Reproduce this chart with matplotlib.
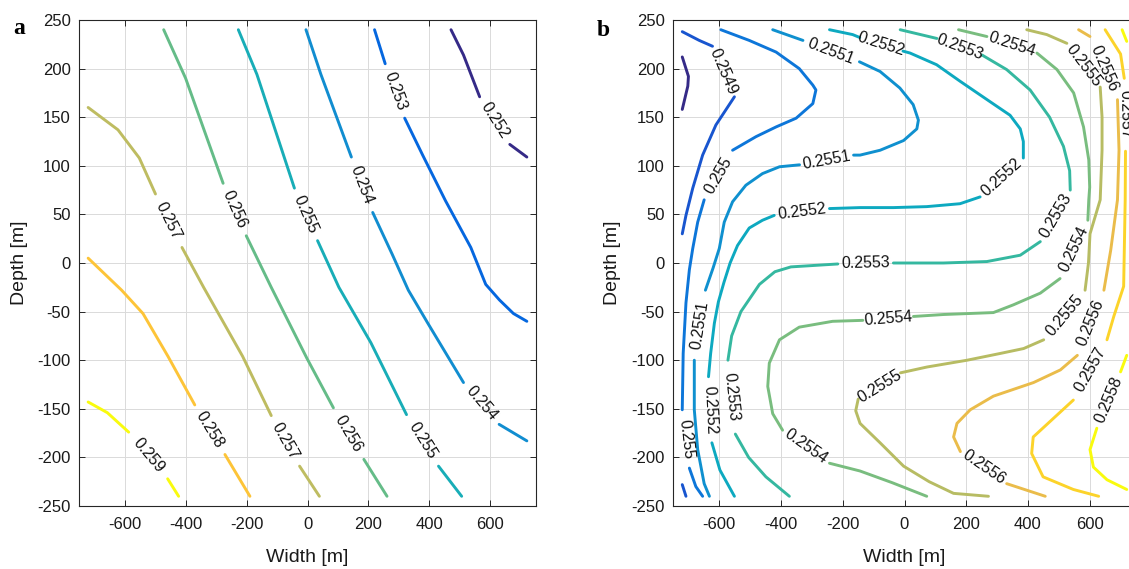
import math
import numpy as np
import matplotlib
import matplotlib.pyplot as plt
from matplotlib.colors import LinearSegmentedColormap, Normalize

matplotlib.use("Agg")

nan = np.nan

# panel a: contour lines (levels, traced x/y points, nan = gap where the label sits)
a_levels = [0.252, 0.253, 0.254, 0.255, 0.256, 0.257, 0.258, 0.259]
a_x = [
    [471, 512, 565, nan, 664, 720],
    [220, 255, nan, 319, 378, 453, 536, 585, 630, 676, 720],
    [-5, 44, 144, nan, 214, 278, 331, 395, 512, nan, 629, 720],
    [-227, -166, -43, nan, 33, 103, 208, 325, nan, 430, 506],
    [-472, -400, -277, nan, -201, -119, -2, 85, nan, 185, 261],
    [-720, -622, -552, -499, nan, -412, -341, -213, -119, nan, -26, 39],
    [-720, -610, -540, -458, -370, nan, -271, -189],
    [-720, -657, -587, nan, -459, -423],
]
a_y = [
    [240, 214, 171, nan, 122, 109],
    [240, 205, nan, 149, 111, 64, 16, -22, -38, -52, -60],
    [240, 194, 109, nan, 52, 9, -28, -62, -123, nan, -166, -183],
    [240, 194, 77, nan, 23, -25, -82, -156, nan, -209, -240],
    [240, 190, 82, nan, 28, -25, -98, -149, nan, -202, -240],
    [160, 137, 108, 71, nan, 16, -25, -96, -157, nan, -209, -240],
    [5, -28, -52, -96, -146, nan, -197, -240],
    [-143, -154, -174, nan, -222, -240],
]

# panel b: one entry per line piece, a level can have several pieces
b_levels = [0.2548, 0.2549, 0.2549, 0.255, 0.2551, 0.2552, 0.2553, 0.2554,
            0.2555, 0.2556, 0.2557, 0.2558, 0.2558]
b_x = [
    [-720, -700, -702, -720],
    [-720, -665, -622, nan, -551, -611, -654, -686, -708, -720],
    [-720, -708],
    [-595, -503, -416, -341, -297, -287, -297, -351, -416, -481, -557, nan,
     -649, -670, -686, -697, -708, -717, -720, nan, -697, -676, -654],
    [-427, -329, nan, -146, -79, -15, 28, 45, 40, -3, -79, -144, -165, nan,
     -340, -405, -460, -514, -557, -584, -600, -620, -645, nan,
     -681, -681, -670, -649, -632],
    [-243, -168, -145, nan, -5, 18, 104, 180, 277, 342, 375, 385, 385, nan,
     245, 180, 72, -36, -144, -243, nan, -422, -460, -503, -541, -565, -585,
     -603, -616, -628, -635, nan, -624, -598, -551],
    [-14, 105, nan, 251, 331, 407, 470, 515, 535, 537, nan, 440, 375, 267, 126,
     -36, nan, -216, -368, -420, -470, -530, -560, -572, nan, -548, -505, -449, -373],
    [175, 267, nan, 429, 494, 548, 580, 597, 600, 597, 594, nan, 504, 440, 353,
     288, 126, 29, nan, -135, -233, -341, -405, -438, -443, -427, -395, nan,
     -243, -144, -40, 72],
    [396, 461, 526, nan, 634, 640, 640, 634, 601, 596, 585, nan, 451, 386, 311,
     203, 73, -13, nan, -150, -158, -144, -79, -3, 80, 159, 272],
    [564, 601, nan, 690, 695, 690, 668, 646, nan, 560, 505, 418, 288, 213, 170,
     159, 181, nan, 331, 456],
    [650, 700, 712, nan, 716, 715, 710, 678, 656, nan, 547, 417, 412, 449, 547, 629],
    [705, 720],
    [720, 700, nan, 623, 601, 612, 656, 720],
]
b_y = [
    [212, 192, 182, 158],
    [238, 229, 223, nan, 171, 142, 111, 77, 49, 30],
    [-228, -240],
    [240, 229, 217, 200, 183, 178, 164, 149, 140, 130, 116, nan,
     65, 42, 15, -7, -41, -93, -151, nan, -211, -230, -240],
    [240, 229, nan, 207, 197, 180, 163, 147, 138, 126, 116, 111, 111, nan,
     101, 99, 92, 80, 63, 42, 15, -5, -28, nan,
     -100, -151, -192, -227, -240],
    [240, 235, 232, nan, 218, 216, 204, 187, 166, 152, 138, 125, 108, nan,
     68, 61, 58, 57, 57, 56, nan, 49, 44, 36, 18, 0, -20,
     -40, -62, -93, -117, nan, -185, -213, -240],
    [240, 231, nan, 214, 199, 178, 150, 120, 95, 75, nan, 22, 8, 1.5, 0,
     0, nan, -1, -4, -9, -22, -50, -75, -100, nan, -176, -200, -220, -240],
    [240, 233, nan, 216, 199, 175, 140, 106, 78, 65, 44, nan, -16, -31, -43,
     -51, -53, -55, nan, -59, -60, -66, -79, -103, -127, -155, -172, nan,
     -206, -214, -226, -240],
    [240, 235, 226, nan, 181, 150, 116, 65, 30, 0, -28, nan, -79, -88, -93,
     -100, -107, -113, nan, -140, -152, -165, -185, -209, -225, -237, -240],
    [240, 233, nan, 168, 116, 65, 13, -28, nan, -95, -110, -123, -137, -151, -165,
     -179, -194, nan, -227, -240],
    [240, 215, 190, nan, 115, 65, -24, -55, -79, nan, -141, -179, -196, -220, -233, -240],
    [240, 228],
    [-95, -112, nan, -170, -192, -210, -223, -233],
]

x_ticks = [-600, -400, -200, 0, 200, 400, 600]
y_ticks = [-250, -200, -150, -100, -50, 0, 50, 100, 150, 200, 250]

# parula-like colormap
parula = LinearSegmentedColormap.from_list("parula", [
    (0.000, (0.2081, 0.1663, 0.5292)),
    (0.063, (0.1959, 0.2645, 0.7279)),
    (0.127, (0.0117, 0.3875, 0.8820)),
    (0.254, (0.0793, 0.5200, 0.8312)),
    (0.381, (0.0228, 0.6535, 0.7768)),
    (0.508, (0.2178, 0.7250, 0.6193)),
    (0.635, (0.5709, 0.7485, 0.4494)),
    (0.762, (0.8507, 0.7299, 0.3360)),
    (0.841, (0.9938, 0.7455, 0.2403)),
    (0.889, (0.9880, 0.8066, 0.1794)),
    (1.000, (0.9763, 0.9831, 0.0538)),
])

plt.rcParams["font.family"] = "Liberation Sans"
plt.rcParams["axes.unicode_minus"] = False

W, H = 1129, 569
fig = plt.figure(figsize=(W / 100, H / 100), dpi=100)


def px_axes(left, top, right, bottom):
    return fig.add_axes([left / W, 1 - bottom / H, (right - left) / W, (bottom - top) / H])


def draw_panel(ax, levels, xs, ys, vmin, vmax):
    ax.set_xlim(-750, 750)
    ax.set_ylim(-250, 250)
    ax.set_xticks(x_ticks)
    ax.set_yticks(y_ticks)
    ax.grid(True, color="#dadada", lw=0.7)
    ax.set_axisbelow(True)
    ax.tick_params(direction="in", top=True, right=True, length=4, width=0.7,
                   color="#262626", labelsize=12, labelcolor="#1a1a1a")
    ax.tick_params(axis="x", pad=8)
    ax.tick_params(axis="y", pad=6)
    for s in ax.spines.values():
        s.set_color("#262626")
        s.set_linewidth(0.8)
    ax.set_xlabel("Width [m]", fontsize=14, color="#1a1a1a")
    ax.set_ylabel("Depth [m]", fontsize=14, color="#1a1a1a")
    ax.xaxis.set_label_coords(0.5, -0.105)
    ax.xaxis.label.set_va("center")
    ax.yaxis.set_label_coords(-0.13, 0.5)
    ax.yaxis.label.set_va("center")

    norm = Normalize(vmin, vmax)
    for lev, x, y in zip(levels, xs, ys):
        ax.plot(x, y, color=parula(norm(lev)), lw=2.1, solid_capstyle="round", zorder=3)

    # labels sit in the gaps, turned along the line
    for lev, x, y in zip(levels, xs, ys):
        x = np.asarray(x, float)
        y = np.asarray(y, float)
        for i in np.where(np.isnan(x))[0]:
            p0 = ax.transData.transform((x[i - 1], y[i - 1]))
            p1 = ax.transData.transform((x[i + 1], y[i + 1]))
            ang = math.degrees(math.atan2(p1[1] - p0[1], p1[0] - p0[0]))
            if ang > 90:
                ang -= 180
            elif ang < -90:
                ang += 180
            ax.text((x[i - 1] + x[i + 1]) / 2, (y[i - 1] + y[i + 1]) / 2, f"{lev:g}",
                    rotation=ang, rotation_mode="anchor", ha="center", va="center",
                    fontsize=11.5, color="#111111", zorder=4)


ax1 = px_axes(79, 20, 536, 506)
draw_panel(ax1, a_levels, a_x, a_y, 0.252, 0.259)

ax2 = px_axes(673, 20, 1136, 506)
draw_panel(ax2, b_levels, b_x, b_y, 0.2548, 0.2558)

fig.text(13 / W, 1 - 34 / H, "a", fontsize=17, fontweight="bold",
         family="Liberation Serif", va="baseline")
fig.text(597 / W, 1 - 36 / H, "b", fontsize=17, fontweight="bold",
         family="Liberation Serif", va="baseline")

fig.savefig("out.png", dpi=100)
